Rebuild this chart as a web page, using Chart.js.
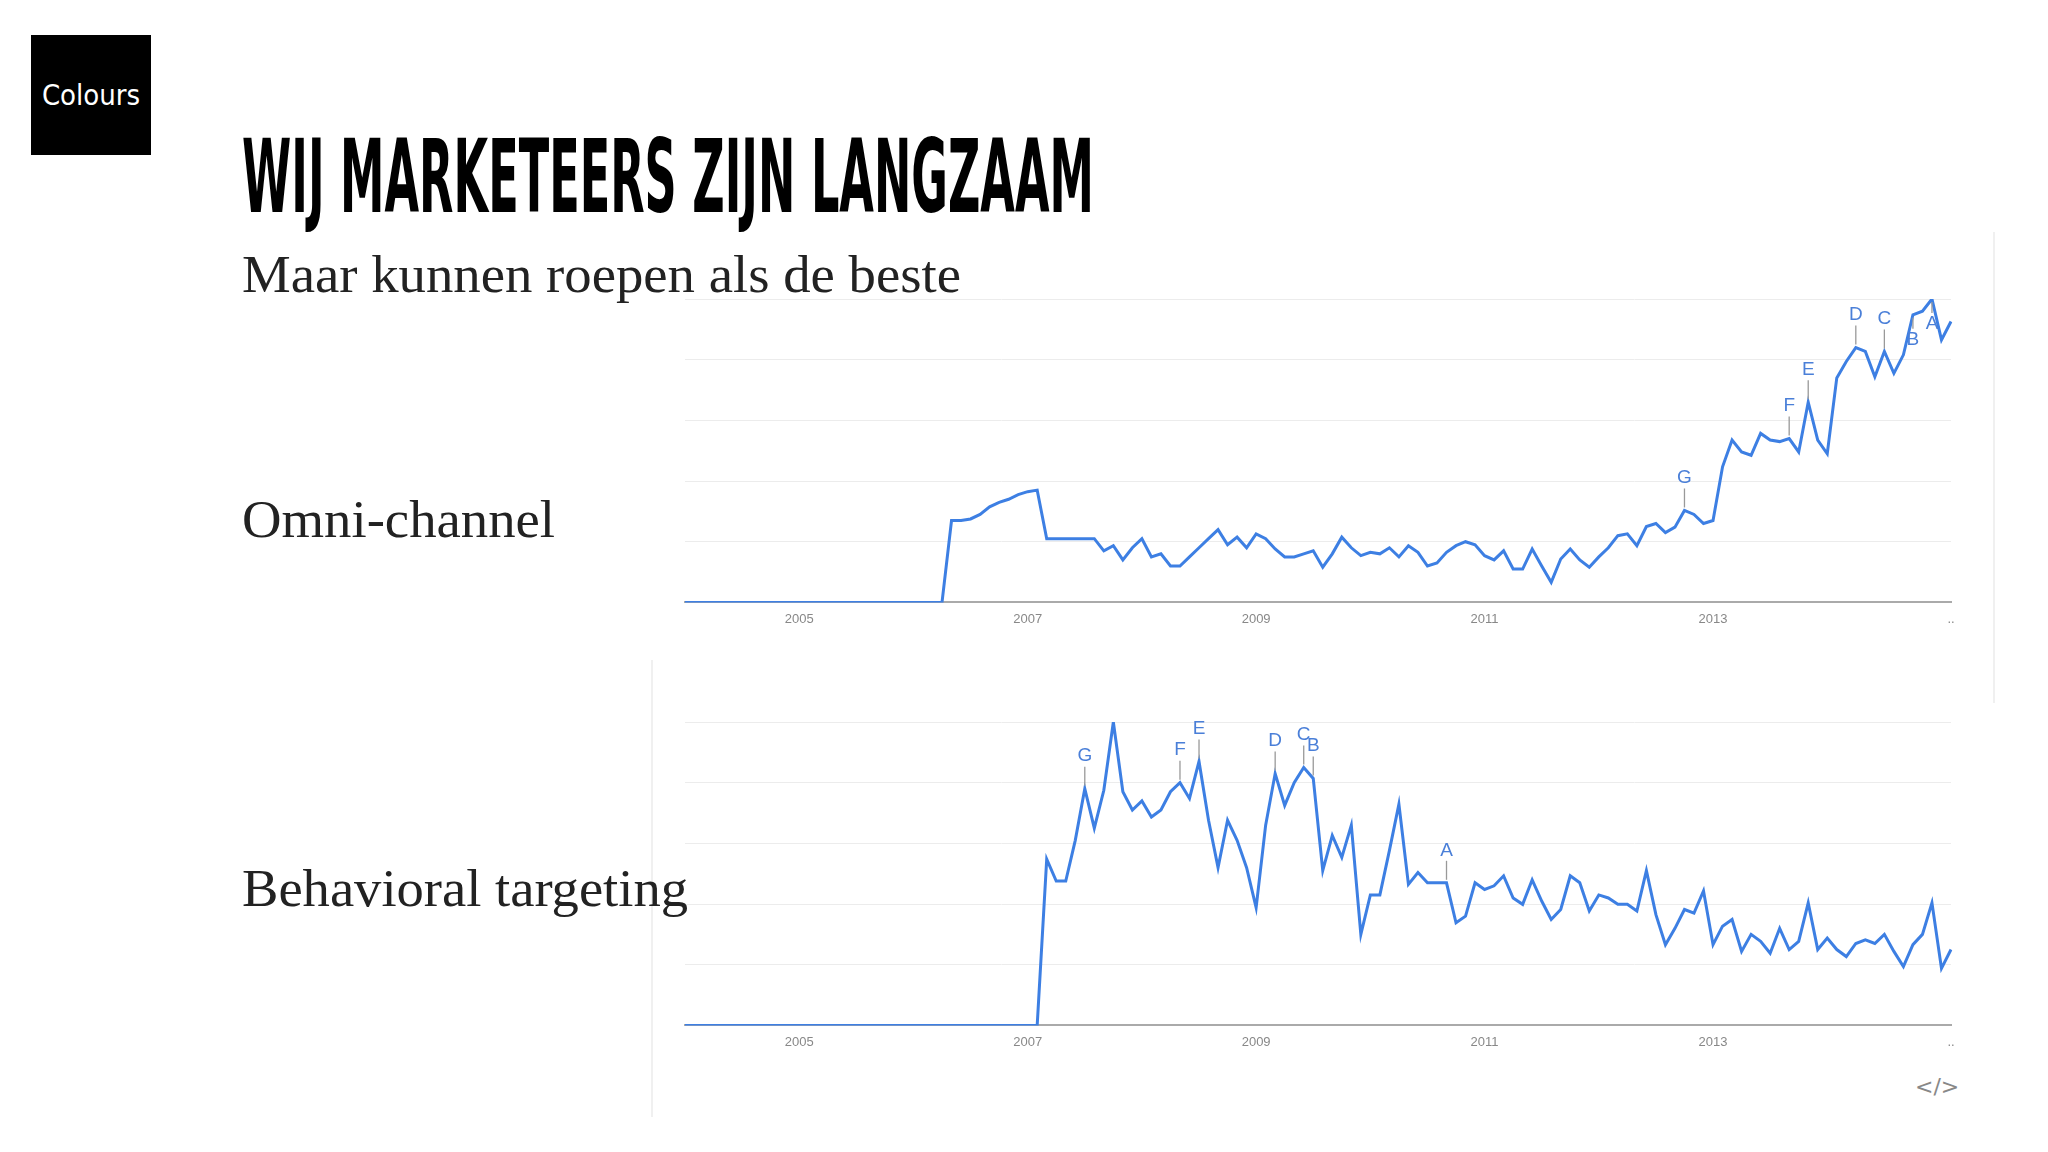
<!DOCTYPE html>
<html><head><meta charset="utf-8">
<script src="https://cdn.jsdelivr.net/npm/chart.js@4"></script>
<style>
body{margin:0;width:2048px;height:1152px;background:#fff;position:relative;overflow:hidden}
.t{position:absolute;white-space:nowrap;transform-origin:0 0;line-height:1;z-index:5}
#box{position:absolute;left:31px;top:35px;width:120px;height:120px;background:#000}
#box span{position:absolute;left:0;width:120px;top:43px;text-align:center;color:#fff;font:29px "DejaVu Sans Condensed";}
.vl{position:absolute;width:2px;background:#f0f0f0}
.cw{position:absolute;left:675px;width:1288px;height:360px}
</style></head><body>
<div id="box"><span>Colours</span></div>
<div class="t" id="title" style="left:242px;top:118px;font:bold 101px 'DejaVu Sans Condensed';color:#000">WIJ MARKETEERS ZIJN LANGZAAM</div>
<div class="t" id="sub" style="left:242px;top:245px;font:52px 'Liberation Serif';color:#222">Maar kunnen roepen als de beste</div>
<div class="t" id="l1" style="left:242px;top:490px;font:52px 'Liberation Serif';color:#222">Omni-channel</div>
<div class="t" id="l2" style="left:242px;top:859px;font:52px 'Liberation Serif';color:#222">Behavioral targeting</div>
<div class="vl" style="left:1993px;top:232px;height:471px"></div>
<div class="vl" style="left:651px;top:660px;height:457px"></div>
<div class="t" style="left:1915px;top:1074px;font:22px 'DejaVu Sans';color:#888">&lt;/&gt;</div>
<div class="cw" style="top:280px"><canvas id="c1"></canvas></div>
<div class="cw" style="top:703px"><canvas id="c2"></canvas></div>
<script>
// months from 2004-01 (134 months)
const startYear = 2004, monthCount = 134;
const omniValues = [0,0,0,0,0,0,0,0,0,0,0,0, 0,0,0,0,0,0,0,0,0,0,0,0, 0,0,0,0,27,27,27.5,29,31.5,33,34,35.5,
 36.5,37,21,21,21,21,21,21,17,18.7,14,18,21,15,16,12,12,15,18,21,24,19,21.5,18,22.6,21,17.6,15,15,16,17,11.6,16,21.5,18,15.4,
 16.5,16,18,15,18.7,16.5,12,13,16.5,18.7,20,19,15.4,14,17,11,11,17.6,12,6.6,14.3,17.6,14,11.6,15,18,22,22.6,18.7,25,26,23,
 24.8,30.3,29,26,27,44.7,53.5,49.6,48.5,55.7,53.5,53,54,49.6,66,53.5,49,74,79.4,84,82.7,74.4,82.7,75.5,81.6,94.8,96,100,86.5,92.6];
const btValues = [0,0,0,0,0,0,0,0,0,0,0,0, 0,0,0,0,0,0,0,0,0,0,0,0, 0,0,0,0,0,0,0,0,0,0,0,0, 0,0,
 54.8,47.6,47.6,61,78,65,77.5,100,77,71,74,68.7,71,77,80,74.8,87,67.6,52,67.6,61,52,38.8,66,83,72.5,80,85,81.4,51,62.6,55.4,
 66,30,43,43,57.6,72.9,46.5,50.4,47,47,47,33.8,36,47,44.8,46,49.3,42,39.9,48,41,34.9,38.2,49.3,47,37.7,43,42,39.9,39.9,37.7,51,
 36.5,26.6,32,38.2,37,44.3,26.6,32.7,34.9,24.4,30,27.7,23.8,32,25,27.7,40.4,25,28.8,25,22.7,27,28.2,27,30,24.4,19.4,26.6,30,40.4,18.8,25];
const tickYears = [2005, 2007, 2009, 2011, 2013];
const omniMarkers = [[105,'G'],[116,'F'],[118,'E'],[123,'D'],[126,'C'],[129,'B',true],[131,'A',true]];
const btMarkers = [[42,'G'],[52,'F'],[54,'E'],[62,'D'],[65,'C'],[66,'B'],[80,'A']];

const labels = [];
for (let i=0;i<monthCount;i++){ const y=startYear+Math.floor(i/12), m=i%12+1; labels.push(y+'-'+String(m).padStart(2,'0')); }

const markerPlugin = {
  id:'markers',
  afterDatasetsDraw(chart, args, opts){
    const ctx=chart.ctx, xs=chart.scales.x, ys=chart.scales.y, d=chart.data.datasets[0].data;
    ctx.save();
    opts.list.forEach(([i,l,below])=>{
      const x=xs.getPixelForValue(i), y=ys.getPixelForValue(d[i]);
      ctx.strokeStyle='#999';ctx.lineWidth=1.3;
      ctx.fillStyle='#4a7fd8';ctx.font='19px "Liberation Sans"';ctx.textAlign='center';
      ctx.beginPath();
      if(below){ctx.moveTo(x,y+3);ctx.lineTo(x,y+14);ctx.stroke();ctx.textBaseline='top';ctx.fillText(l,x,y+15);}
      else{ctx.moveTo(x,y-3);ctx.lineTo(x,y-22);ctx.stroke();ctx.textBaseline='bottom';ctx.fillText(l,x,y-23);}
    });
    ctx.restore();
  }
};

function make(id, values, markers){
  new Chart(document.getElementById(id), {
    type:'line',
    data:{labels, datasets:[{data:values, borderColor:'#3d7fe3', borderWidth:3, pointRadius:0, tension:0, fill:false}]},
    options:{
      responsive:true, maintainAspectRatio:false, animation:false,
      layout:{padding:{left:10,right:12,top:19,bottom:12}},
      plugins:{legend:{display:false}, tooltip:{enabled:false}, markers:{list:markers}},
      scales:{
        x:{grid:{display:false}, border:{color:'#aaa',width:2},
           ticks:{autoSkip:false,maxRotation:0,padding:1,color:'#888',font:{family:'Liberation Sans',size:13},
             callback:(v,i)=>{ if(i===monthCount-1) return '..'; const l=labels[i]; return (l.endsWith('-01') && tickYears.includes(+l.slice(0,4)))? l.slice(0,4):null; }}},
        y:{min:0,max:100,ticks:{display:false,stepSize:20},grid:{color:'#ececec',drawTicks:false},border:{display:false}}
      }
    },
    plugins:[markerPlugin]
  });
}
make('c1', omniValues, omniMarkers);
make('c2', btValues, btMarkers);

function fit(id,w){const e=document.getElementById(id);const r=e.getBoundingClientRect();e.style.transform='scaleX('+(w/r.width)+')';}
fit('title',852);fit('sub',719);fit('l1',313);fit('l2',446);
</script>
</body></html>
